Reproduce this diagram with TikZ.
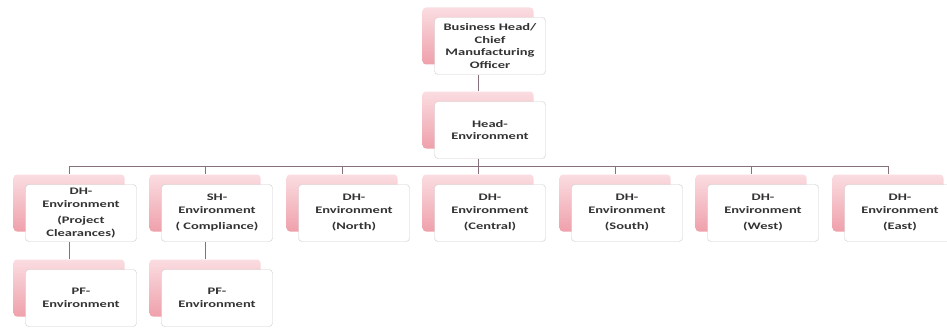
\documentclass[tikz,border=0pt]{standalone}
\usepackage{fontspec}
\newfontfamily\boxfont[FakeStretch=1.45]{Carlito}
\definecolor{linkgray}{HTML}{86707C}
\definecolor{pinktop}{HTML}{FADDE1}
\definecolor{pinkbot}{HTML}{EFA0AB}
\definecolor{cardline}{HTML}{CFCACB}

\begin{document}
\begin{tikzpicture}[x=1pt,y=-1pt,
    card/.style={draw=cardline, fill=white, rounded corners=3.5pt,
        minimum width=111pt, minimum height=57pt, align=center,
        font=\boxfont\bfseries\fontsize{10}{12.5}\selectfont, text=black!80},
    cardback/.style={rounded corners=3.5pt, minimum width=111pt,
        minimum height=57pt, top color=pinktop, bottom color=pinkbot},
    link/.style={draw=linkgray, line width=0.9pt}]
\useasboundingbox[fill=white] (0,0) rectangle (947,329);
\clip (0,0) rectangle (947,329);
% pink cards behind the boxes
\foreach \n/\x/\y in {bh/490/46, head/490/130, dh1/81/213, sh/217/213,
    dh2/354/213, dh3/490/213, dh4/627/213, dh5/763/213, dh6/900/213,
    pf1/81/298, pf2/217/298}
    \node[cardback] (b\n) at (\x-12,\y-10) {};
\node[card] (bh) at (490,46) {Business Head/\\Chief\\Manufacturing\\Officer};
\node[card] (head) at (490,130) {Head-\\Environment};
\node[card] (dh1) at (81,213) {DH-\\Environment\\[4pt](Project\\Clearances)};
\node[card] (sh) at (217,213) {SH-\\Environment\\[4pt]( Compliance)};
\node[card] (dh2) at (354,213) {DH-\\Environment\\[4pt](North)};
\node[card] (dh3) at (490,213) {DH-\\Environment\\[4pt](Central)};
\node[card] (dh4) at (627,213) {DH-\\Environment\\[4pt](South)};
\node[card] (dh5) at (763,213) {DH-\\Environment\\[4pt](West)};
\node[card] (dh6) at (900,213) {DH-\\Environment\\[4pt](East)};
\node[card] (pf1) at (81,298) {PF-\\Environment};
\node[card] (pf2) at (217,298) {PF-\\Environment};
% connectors
\coordinate (bus) at (0,166);
\draw[link] (bh.south -| bbh.north) -- (bhead.north);
\draw[link] (head.south -| bhead.north) -- (bus -| bhead.north);
\draw[link] (bus -| bdh1.north) -- (bus -| bdh6.north);
\foreach \n in {dh1,sh,dh2,dh3,dh4,dh5,dh6}
    \draw[link] (bus -| b\n.north) -- (b\n.north);
\draw[link] (dh1.south -| bdh1.north) -- (bpf1.north);
\draw[link] (sh.south -| bsh.north) -- (bpf2.north);
\end{tikzpicture}
\end{document}
